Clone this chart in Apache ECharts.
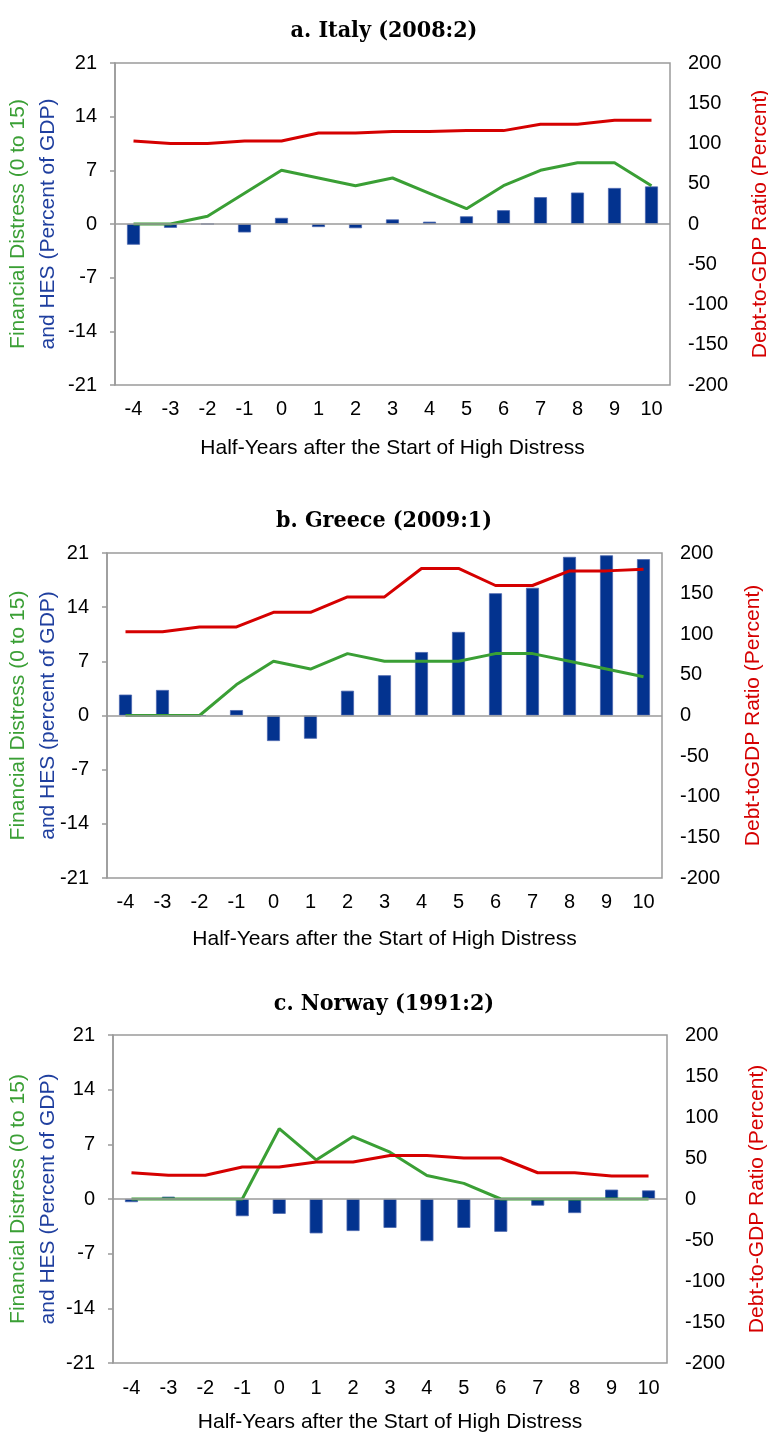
<!DOCTYPE html>
<html>
<head>
<meta charset="utf-8">
<script src="https://cdn.jsdelivr.net/npm/echarts@6/dist/echarts.min.js"></script>
<style>html,body{margin:0;padding:0;background:#fff;}#c{width:768px;height:1433px;}</style>
</head>
<body>
<div id="c"></div>
<script>
const categories = ['-4','-3','-2','-1','0','1','2','3','4','5','6','7','8','9','10'];
const leftTicks = [-21,-14,-7,0,7,14,21];
const rightTicks = [-200,-150,-100,-50,0,50,100,150,200];

const titleItaly = 'a. Italy (2008:2)';
const hesItaly = [-2.7, -0.5, 0, -1.1, 0.8, -0.4, -0.55, 0.6, 0.3, 1.0, 1.8, 3.5, 4.1, 4.7, 4.9];
const distressItaly = [0, 0, 1, 4, 7, 6, 5, 6, 4, 2, 5, 7, 8, 8, 5];
const debtItaly = [103, 100, 100, 103, 103, 113, 113, 115, 115, 116, 116, 124, 124, 129, 129];

const titleGreece = 'b. Greece (2009:1)';
const hesGreece = [2.7, 3.3, 0, 0.7, -3.3, -3.0, 3.2, 5.2, 8.2, 10.8, 15.8, 16.5, 20.5, 20.7, 20.2];
const distressGreece = [0, 0, 0, 4, 7, 6, 8, 7, 7, 7, 8, 8, 7, 6, 5];
const debtGreece = [103, 103, 109, 109, 127, 127, 146, 146, 181, 181, 160, 160, 178, 178, 180];

const titleNorway = 'c. Norway (1991:2)';
const hesNorway = [-0.4, 0.3, 0, -2.2, -1.9, -4.4, -4.1, -3.7, -5.4, -3.7, -4.2, -0.85, -1.8, 1.2, 1.1];
const distressNorway = [0, 0, 0, 0, 9, 5, 8, 6, 3, 2, 0, 0, 0, 0, 0];
const debtNorway = [32, 29, 29, 39, 39, 45, 45, 53, 53, 50, 50, 32, 32, 28, 28];

const xTitle = 'Half-Years after the Start of High Distress';
const leftNames = [
  ['Financial Distress (0 to 15)', 'and HES (Percent of GDP)'],
  ['Financial Distress (0 to 15)', 'and HES (percent of GDP)'],
  ['Financial Distress (0 to 15)', 'and HES (Percent of GDP)']
];
const rightNames = ['Debt-to-GDP Ratio (Percent)', 'Debt-toGDP Ratio (Percent)', 'Debt-to-GDP Ratio (Percent)'];

const FONT = '"Liberation Sans", Arial, sans-serif';
const SERIF = '"DejaVu Serif Condensed", "DejaVu Serif", serif';
const GREEN = '#3a9f35';
const BLUE_TXT = '#1f3f9f';
const RED = '#d50000';
const BAR = '#03338f';
const GRAY = '#9a9a9a';

const panels = [
  {title: titleItaly, hes: hesItaly, dis: distressItaly, debt: debtItaly, left: 115, top: 63, width: 555, height: 322, titleTop: 15, lm: 14, ng: 53, rg: 80, lg: 52},
  {title: titleGreece, hes: hesGreece, dis: distressGreece, debt: debtGreece, left: 107, top: 553, width: 555, height: 325, titleTop: 505, lm: 14, ng: 51, rg: 81, lg: 44},
  {title: titleNorway, hes: hesNorway, dis: distressNorway, debt: debtNorway, left: 113, top: 1035, width: 554, height: 328, titleTop: 988, lm: 15, ng: 49, rg: 80, lg: 50}
];

const option = {
  backgroundColor: '#fff',
  animation: false,
  title: [], grid: [], xAxis: [], yAxis: [], series: []
};

panels.forEach((p, i) => {
  option.title.push({
    text: p.title, left: 'center', top: p.titleTop,
    textStyle: {fontFamily: SERIF, fontSize: 23, fontWeight: 'bold', color: '#000'}
  });
  option.grid.push({
    left: p.left, top: p.top, width: p.width, height: p.height,
    containLabel: false, outerBoundsMode: 'none',
    show: true, borderColor: GRAY, borderWidth: 1.5, backgroundColor: 'transparent'
  });
  option.xAxis.push({
    type: 'category', gridIndex: i, data: categories, boundaryGap: true,
    axisLine: {show: false}, axisTick: {show: false},
    axisLabel: {fontFamily: FONT, fontSize: 20, color: '#000', margin: p.lm, interval: 0},
    name: xTitle, nameLocation: 'middle', nameGap: p.ng, nameMoveOverlap: false,
    nameTextStyle: {fontFamily: FONT, fontSize: 21, color: '#000'}
  });
  option.yAxis.push({
    type: 'value', gridIndex: i, position: 'left', min: -21, max: 21, interval: 7,
    axisLine: {show: true, lineStyle: {color: GRAY, width: 1.5}},
    axisTick: {show: true, length: 5, inside: false, lineStyle: {color: GRAY, width: 1.5}},
    splitLine: {show: false},
    axisLabel: {fontFamily: FONT, fontSize: 20, color: '#000', margin: 18,
      customValues: leftTicks},
    name: '{g|' + leftNames[i][0] + '}\n{b|' + leftNames[i][1] + '}',
    nameLocation: 'middle', nameRotate: 90, nameGap: p.lg, nameMoveOverlap: false,
    nameTextStyle: {
      align: 'center',
      rich: {
        g: {fontFamily: FONT, fontSize: 21, color: GREEN, lineHeight: 30, align: 'center'},
        b: {fontFamily: FONT, fontSize: 21, color: BLUE_TXT, lineHeight: 30, align: 'center'}
      }
    }
  });
  option.yAxis.push({
    type: 'value', gridIndex: i, position: 'right', min: -200, max: 200, interval: 50,
    axisLine: {show: false}, axisTick: {show: false}, splitLine: {show: false},
    axisLabel: {fontFamily: FONT, fontSize: 20, color: '#000', margin: 18,
      customValues: rightTicks},
    name: rightNames[i], nameLocation: 'middle', nameRotate: 90, nameGap: p.rg, nameMoveOverlap: false,
    nameTextStyle: {fontFamily: FONT, fontSize: 21, color: RED}
  });
  option.series.push({
    type: 'bar', xAxisIndex: i, yAxisIndex: 2 * i, data: p.hes, barWidth: 13,
    itemStyle: {color: BAR, borderColor: '#4a66ad', borderWidth: 0.8},
    markLine: {
      silent: true, symbol: 'none', label: {show: false},
      lineStyle: {color: GRAY, type: 'solid', width: 1.5},
      data: [{yAxis: 0}]
    },
    z: 2
  });
  option.series.push({
    type: 'line', xAxisIndex: i, yAxisIndex: 2 * i, data: p.dis,
    symbol: 'none', lineStyle: {color: GREEN, width: 3}, z: 4
  });
  option.series.push({
    type: 'line', xAxisIndex: i, yAxisIndex: 2 * i + 1, data: p.debt,
    symbol: 'none', lineStyle: {color: RED, width: 3}, z: 5
  });
});

const chart = echarts.init(document.getElementById('c'), null, {renderer: 'canvas'});
chart.setOption(option);
</script>
</body>
</html>
